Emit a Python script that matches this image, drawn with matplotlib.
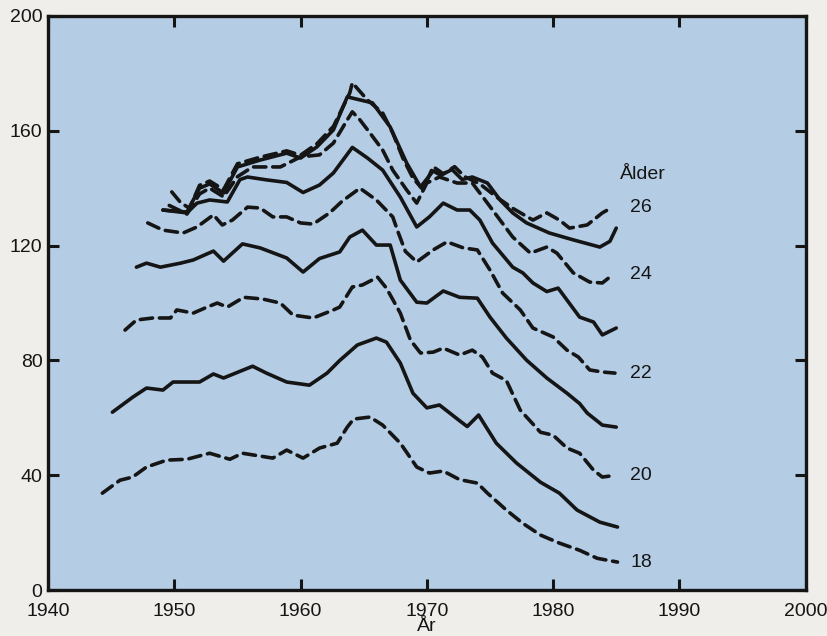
import numpy as np
import matplotlib
matplotlib.use("Agg")
import matplotlib.pyplot as plt

plt.rcParams['font.family'] = ['Liberation Sans', 'DejaVu Sans']

# data (year, value) per age
ar_18 = [1944.3, 1945.7, 1946.7, 1947.8, 1949.4, 1951, 1952.8, 1954.4, 1955.4, 1957.8, 1958.9,
         1960.2, 1961.5, 1962.9, 1963.7, 1964.2, 1965.5, 1966.5, 1967.9, 1969.2, 1970.2, 1971.3,
         1972.6, 1974, 1974.8, 1976.3, 1977.6, 1979, 1980.5, 1982.1, 1983.5, 1985.1]
v_18 = [33.8, 38.3, 39.4, 42.9, 45.3, 45.6, 47.7, 45.6, 47.7, 46, 48.8,
        46, 49.5, 51.2, 56.8, 59.6, 60.3, 57.5, 51.2, 42.9, 40.8, 41.5,
        38.5, 37.3, 33.8, 27.9, 23.3, 19.2, 16.4, 13.9, 11.1, 9.8]

ar_19 = [1945.1, 1946.7, 1947.8, 1949.1, 1949.9, 1952, 1953.1, 1953.9, 1956.2, 1957.3, 1958.9,
         1960.7, 1962.1, 1963.1, 1964.5, 1966, 1966.8, 1967.9, 1968.9, 1970, 1971, 1972.6,
         1973.2, 1974.1, 1975.5, 1977.1, 1979, 1980.5, 1981.9, 1983.7, 1985.1]
v_19 = [62, 67.2, 70.4, 69.7, 72.5, 72.5, 75.3, 73.9, 78, 75.6, 72.5,
        71.4, 75.6, 80, 85.4, 87.8, 86.4, 79.1, 68.6, 63.5, 64.5, 59,
        57, 61, 51.2, 44.3, 37.6, 33.8, 27.9, 23.7, 22]

ar_20 = [1946.1, 1947, 1948.3, 1949.7, 1950.2, 1951.5, 1952.6, 1953.4, 1954.2, 1955.5, 1957,
         1958.4, 1959.4, 1961, 1962.6, 1963.1, 1964.1, 1964.9, 1966.1, 1966.8, 1967.9, 1968.7,
         1969.5, 1970.5, 1971.3, 1972.6, 1973.6, 1974.4, 1975.2, 1976.3, 1977.4, 1979, 1980,
         1981.1, 1982.1, 1983.2, 1983.9, 1984.9]
v_20 = [90.6, 94.1, 94.8, 94.8, 97.6, 96.5, 98.6, 100, 98.6, 102, 101.4,
        100, 95.8, 94.8, 97.6, 98.6, 105.6, 106.3, 109, 105.2, 96.5, 87.1,
        82.6, 82.9, 84.3, 81.9, 83.6, 81.2, 75.6, 73, 62.7, 55, 54,
        49.5, 47.7, 41.8, 39.4, 40]

ar_21 = [1947, 1947.8, 1948.9, 1950.5, 1951.5, 1953.1, 1953.9, 1955.4, 1956.8, 1958.9, 1960.2,
         1961.5, 1963.1, 1963.9, 1964.9, 1966, 1967.1, 1967.9, 1969.2, 1970, 1971.3, 1972.6,
         1974, 1975, 1976.3, 1977.9, 1979.5, 1981.1, 1982.1, 1982.7, 1983.9, 1985]
v_21 = [112.5, 113.9, 112.5, 113.9, 115, 118.1, 114.6, 120.6, 119.2, 115.7, 110.8,
        115.5, 117.8, 123, 125.4, 120.2, 120.2, 108, 100.3, 100, 104.2, 102,
        101.7, 95.1, 87.8, 80.1, 73.9, 68.6, 65, 61.7, 57.5, 56.8]

ar_22 = [1947.9, 1949.1, 1950.7, 1951.8, 1953.1, 1953.8, 1954.6, 1955.8, 1956.8, 1957.8, 1958.9,
         1960, 1961, 1962.3, 1963.3, 1964.7, 1966, 1967.3, 1967.7, 1968.3, 1969.2, 1970.5,
         1971.6, 1972.9, 1974, 1975, 1976, 1977.4, 1978.4, 1980, 1981.1, 1982, 1982.9,
         1983.9, 1984.9]
v_22 = [127.9, 125.4, 124.4, 126.5, 130.7, 127.2, 128.9, 133.4, 133.1, 130, 130,
        127.9, 127.5, 131.4, 135.5, 140, 135.9, 130, 125, 118, 114.3, 118.5,
        121.3, 119.2, 118.5, 111.5, 103.5, 97.6, 91.3, 88.2, 83.6, 81.2, 76.7,
        76, 75.6]

ar_23 = [1949.1, 1951, 1951.8, 1952.8, 1954.2, 1955.2, 1955.8, 1957.3, 1958.9, 1960.2, 1961.5,
         1962.6, 1964.1, 1965.3, 1966.5, 1967.9, 1969.2, 1970.2, 1971.3, 1972.4, 1973.4, 1974.2,
         1975.2, 1976.8, 1977.6, 1978.4, 1979.5, 1980.4, 1982.1, 1983.2, 1983.9, 1985]
v_23 = [132.4, 131.4, 134.8, 135.9, 135.2, 143, 143.9, 142.9, 142, 138.5, 141.1,
        145.3, 154.2, 150.5, 146.3, 136.9, 126.5, 130, 134.8, 132.4, 132.4, 128.9,
        120.9, 112.5, 110.5, 107, 104, 105.2, 95.1, 93.4, 88.9, 91.3]

ar_24 = [1949.6, 1951, 1952, 1952.8, 1953.9, 1955, 1956.2, 1958.4, 1960, 1961.5, 1962.6,
         1963.7, 1964.1, 1964.7, 1965.5, 1966.5, 1967.3, 1968.4, 1969.2, 1970, 1971, 1972.4,
         1973.6, 1974.8, 1975.8, 1976.8, 1978.2, 1979.5, 1980.3, 1981.6, 1982.9, 1983.9, 1984.7]
v_24 = [134, 131, 138, 140, 137, 144, 147.4, 147.4, 150.9, 151.6, 155.7,
        163.8, 166.6, 163.8, 159.2, 153.3, 146.3, 139.4, 134.8, 141.8, 143.9, 141.8,
        141.8, 134.8, 128.9, 123, 117.4, 119.5, 117.4, 110.5, 107.3, 107, 109.8]

ar_25 = [1949.1, 1951, 1952, 1952.8, 1953.9, 1955, 1956.8, 1958.9, 1960, 1961.3, 1962.6,
         1963.7, 1965.7, 1967.1, 1968.4, 1969.5, 1970.5, 1971.1, 1972, 1972.8, 1973.6, 1974.8,
         1975.8, 1976.8, 1977.9, 1979.7, 1981.6, 1983.7, 1984.5, 1985]
v_25 = [132.4, 131.7, 140, 141.5, 138.3, 147.4, 149.8, 152.2, 150.5, 154.4, 160.3,
        171.8, 169.7, 161.3, 148.8, 140.4, 146, 144.5, 146.5, 143, 143.9, 141.8,
        135.9, 131.4, 127.9, 124.4, 122, 119.5, 121.5, 126.1]

ar_26 = [1949.8, 1950.5, 1951.2, 1952, 1952.8, 1953.9, 1955, 1956.8, 1958.9, 1960, 1961.3,
         1962.6, 1963.9, 1964.1, 1965.3, 1966.5, 1967.3, 1968.1, 1968.9, 1969.7, 1970.5, 1971.3,
         1972.2, 1973, 1974.2, 1975.5, 1976.8, 1978.4, 1979.5, 1980.5, 1981.3, 1982.7, 1983.9,
         1984.7]
v_26 = [138.7, 135, 133, 141, 142.5, 139.5, 148.5, 150.8, 153, 151.5, 155.5,
        161.5, 173.2, 176.7, 170.7, 166.2, 159.2, 150.5, 143.5, 139.5, 147.5, 145,
        147.5, 144, 141.5, 137, 133, 128.9, 131.4, 128.9, 126.1, 127.2, 131.4,
        133.4]

serier = [(18, ar_18, v_18), (19, ar_19, v_19), (20, ar_20, v_20), (21, ar_21, v_21),
          (22, ar_22, v_22), (23, ar_23, v_23), (24, ar_24, v_24), (25, ar_25, v_25),
          (26, ar_26, v_26)]

fig = plt.figure(figsize=(8.28, 6.36), dpi=100)
fig.patch.set_facecolor('#efeeea')
ax = fig.add_axes([0.058, 0.072, 0.915, 0.903])
ax.set_facecolor('#b4cde5')

for alder, x, y in serier:
    if alder % 2 == 0:
        ax.plot(x, y, color='#151515', lw=2.6, linestyle=(0, (3.4, 1.9)),
                dash_capstyle='round', solid_capstyle='round')
        ax.text(1986.1, y[-1], str(alder), fontsize=14, va='center', ha='left',
                color='#151515')
    else:
        ax.plot(x, y, color='#151515', lw=2.6, solid_capstyle='round',
                solid_joinstyle='round')

ax.text(1985.3, 144.6, 'Ålder', fontsize=14, va='center', ha='left', color='#151515')

ax.set_xlim(1940, 2000)
ax.set_ylim(0, 200)
ax.set_xticks(np.arange(1940, 2001, 10))
ax.set_yticks(np.arange(0, 201, 40))
ax.tick_params(direction='in', length=8, width=2.2, top=True, right=True,
               labelsize=14, colors='#151515')
ax.tick_params(axis='x', pad=9)
ax.tick_params(axis='y', pad=4)
for s in ax.spines.values():
    s.set_linewidth(2.4)
    s.set_color('#151515')

ax.set_xlabel('År', fontsize=14, labelpad=-1, color='#151515')

fig.savefig('out.png', dpi=100, facecolor=fig.get_facecolor())
